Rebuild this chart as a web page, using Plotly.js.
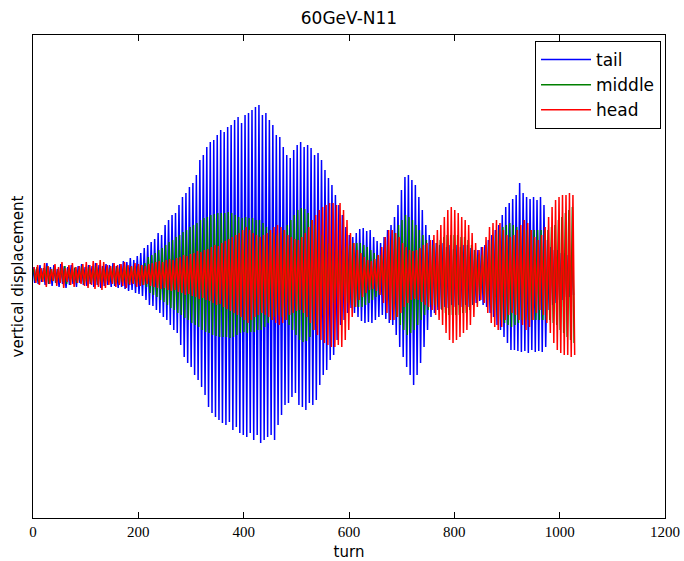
<!DOCTYPE html>
<html>
<head>
<meta charset="utf-8">
<script src="https://cdn.plot.ly/plotly-3.0.1.min.js"></script>
<style>html,body{margin:0;padding:0;background:#fff;}#chart{width:684px;height:561px;}</style>
</head>
<body>
<div id="chart"></div>
<script>
// Oscillation period in turns (one peak + one trough per cycle)
const turnsPerCycle = 6.6;
const seriesNames = ["tail", "middle", "head"];
const xTicks = [0, 200, 400, 600, 800, 1000, 1200];

// tail: upper and lower excursion of each cycle (arbitrary units)
const tailUp = [8,6,10,7,12,8,10,6,11,9,8,10,7,9,11,8,10,9,12,10,9,11,10,12,9,11,14,13,17,15,
19,22,27,30,33,36,42,40,50,55,60,62,70,78,82,88,92,100,115,120,128,133,135,140,145,143,148,150,155,158,
152,160,162,165,168,170,160,162,155,150,140,138,128,120,117,125,130,133,128,130,127,120,122,115,105,97,90,80,70,60,
48,40,38,42,46,47,44,45,38,34,32,38,45,50,58,70,85,98,100,95,90,78,65,50,40,35,32,30,32,28,
30,26,30,28,30,30,27,25,25,28,30,35,40,45,50,60,68,72,76,80,92,82,78,76,78,75,78,70,35,28,
25,25,22,22,20,20];
const tailDown = [8,9,7,10,9,11,8,12,9,13,10,9,12,8,10,11,9,12,10,13,11,10,12,11,13,12,14,16,15,18,
19,21,25,30,31,35,38,42,45,50,55,58,70,82,88,92,100,105,112,120,132,138,142,145,148,150,147,155,152,158,
160,162,158,165,160,168,165,162,160,165,150,140,130,128,122,118,130,132,135,128,130,125,110,100,95,85,80,65,50,45,
38,33,38,42,46,48,47,48,45,42,40,44,48,50,60,72,82,92,100,110,100,88,72,55,42,38,35,34,32,33,
30,32,30,32,30,32,30,28,26,30,32,38,42,50,55,62,68,75,75,76,77,76,78,75,77,76,77,72,35,30,
28,25,25,22,22,20];
// middle: excursion of each cycle
const middleAmp = [6,8,5,7,9,6,8,5,7,9,6,7,8,6,9,7,8,6,9,7,8,6,7,9,8,7,8,9,8,9,
9,10,12,18,20,22,25,27,30,33,35,38,40,43,45,48,50,52,55,57,58,60,61,62,62,62,63,62,60,58,
57,58,57,57,55,55,52,48,45,42,40,42,45,50,55,60,65,67,66,62,55,50,45,40,35,32,28,25,25,25,
28,30,32,32,32,30,28,25,22,20,20,25,30,35,42,50,55,60,58,55,50,45,40,35,30,30,32,35,38,40,
40,40,40,38,38,35,30,25,20,20,25,30,35,40,45,48,50,52,50,48,45,45,45,45,45,45,45,45,45,48,
50,55,58,62,65,68];
// head: excursion of each cycle
const headAmp = [8,10,7,12,9,6,11,8,13,7,10,12,8,9,11,13,10,14,12,15,13,10,9,12,10,11,13,10,9,12,
11,10,9,11,12,13,14,13,15,16,15,17,18,20,19,21,22,24,23,25,26,28,30,29,32,34,36,38,40,42,
45,48,45,42,40,38,40,42,45,48,50,48,45,40,38,36,35,38,42,48,55,60,65,68,70,72,72,70,72,65,
55,42,32,25,22,18,15,14,16,20,28,38,45,45,42,38,32,28,25,24,25,27,30,32,35,40,45,50,58,65,
68,65,62,58,55,50,42,32,25,28,38,48,52,55,52,45,40,38,40,45,50,55,52,45,38,35,40,48,58,68,
75,78,80,80,82,80];

function zigzag(up, down, phase) {
  const x = [], y = [];
  for (let i = 0; i < up.length; i++) {
    x.push(i * turnsPerCycle + phase);
    y.push(up[i]);
    x.push(i * turnsPerCycle + turnsPerCycle / 2 + phase);
    y.push(-down[i]);
  }
  return {x, y};
}

const tail = zigzag(tailUp, tailDown, 0);
const middle = zigzag(middleAmp, middleAmp, 1.1);
const head = zigzag(headAmp, headAmp, 2.2);

const colors = ["#0000ff", "#008000", "#ff0000"];
const data = [tail, middle, head].map((s, k) => ({
  type: "scatter", mode: "lines", name: seriesNames[k],
  x: s.x, y: s.y,
  line: {color: colors[k], width: 1.5}
}));

const layout = {
  width: 684, height: 561,
  margin: {l: 33, r: 19, t: 35, b: 43},
  paper_bgcolor: "#fff", plot_bgcolor: "#fff",
  title: {text: "60GeV-N11", font: {family: "DejaVu Sans", size: 17, color: "#000"},
          x: 0.5, xref: "paper", y: 1 - 18 / 561, yref: "container", yanchor: "middle"},
  xaxis: {range: [0, 1200], tickvals: xTicks, ticktext: xTicks.map(String),
          ticks: "inside", ticklen: 6, tickcolor: "#000", mirror: "allticks",
          showline: true, linecolor: "#000", linewidth: 1, showgrid: false, zeroline: false,
          tickfont: {family: "Liberation Serif", size: 15, color: "#000"},
          title: {text: "turn", font: {family: "DejaVu Sans", size: 15, color: "#000"}, standoff: 10}},
  yaxis: {range: [-243, 240], showticklabels: false, ticks: "",
          showline: true, mirror: true, linecolor: "#000", linewidth: 1, showgrid: false, zeroline: false,
          title: {text: "vertical displacement", font: {family: "DejaVu Sans", size: 15, color: "#000"}, standoff: 4}},
  legend: {x: 0.9937, xanchor: "right", y: 0.9876, yanchor: "top",
           bgcolor: "#fff", bordercolor: "#000", borderwidth: 1,
           itemwidth: 50,
           font: {family: "DejaVu Sans", size: 17, color: "#000"}, tracegroupgap: 0},
  showlegend: true
};

Plotly.newPlot("chart", data, layout, {displayModeBar: false, staticPlot: true});
</script>
</body>
</html>
